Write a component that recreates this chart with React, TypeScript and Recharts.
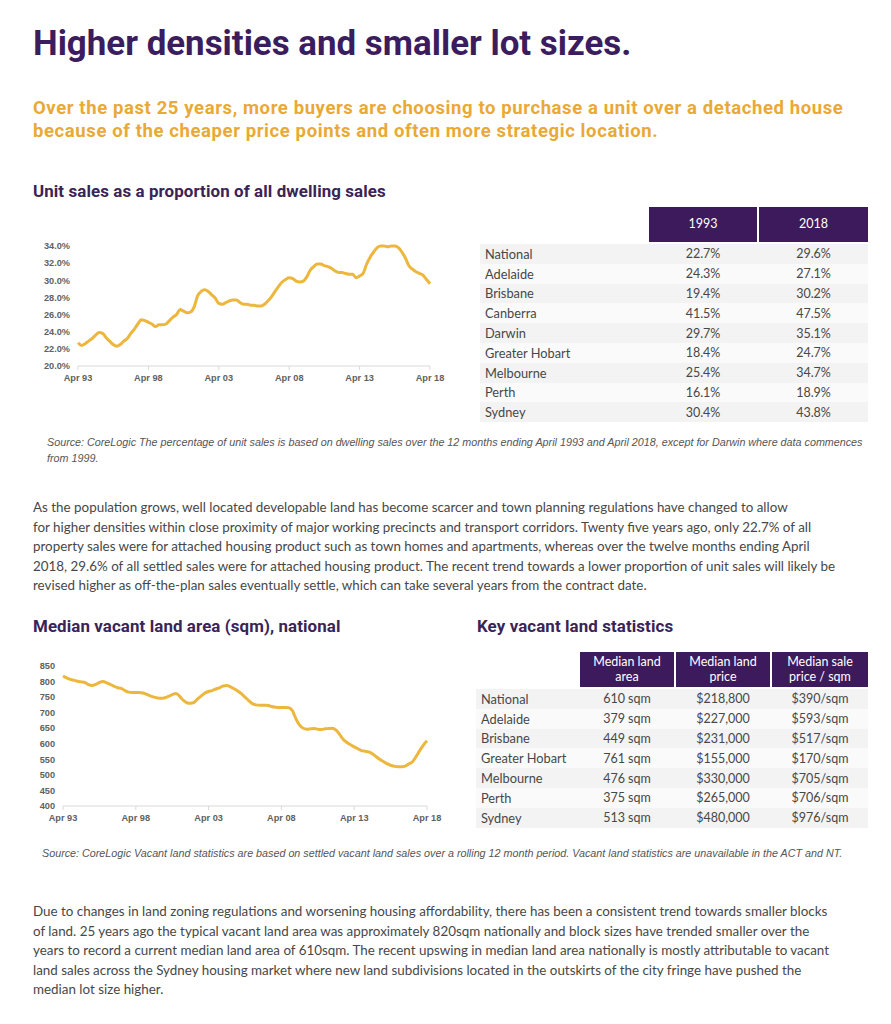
import React from 'react'
import { LineChart, Line, XAxis, YAxis } from 'recharts'

// ─── Data ───────────────────────────────────────────────────────
// quarterly readings, Apr 93 -> Apr 18 (101 points)
const unitShare = [
  22.7, 22.4, 22.6, 22.9, 23.2, 23.6, 23.9, 23.8, 23.3, 22.9,
  22.5, 22.3, 22.5, 22.9, 23.2, 23.8, 24.3, 24.9, 25.4, 25.3,
  25.1, 24.9, 24.6, 24.8, 24.8, 24.9, 25.3, 25.7, 26.0, 26.6,
  26.4, 26.2, 26.3, 26.9, 28.2, 28.7, 28.9, 28.7, 28.3, 27.9,
  27.3, 27.2, 27.4, 27.6, 27.7, 27.7, 27.4, 27.2, 27.2, 27.1,
  27.1, 27.0, 27.0, 27.2, 27.6, 28.1, 28.7, 29.3, 29.8, 30.1,
  30.3, 30.2, 29.9, 29.8, 29.9, 30.4, 31.2, 31.6, 31.9, 31.9,
  31.7, 31.6, 31.4, 31.1, 30.9, 30.9, 30.8, 30.7, 30.7, 30.3,
  30.5, 30.8, 31.9, 32.7, 33.3, 33.8, 34.0, 34.0, 33.9, 34.0,
  34.0, 33.8, 33.3, 32.6, 31.7, 31.3, 31.0, 30.8, 30.6, 30.1,
  29.6,
]

const landArea = [
  818, 812, 807, 804, 801, 799, 797, 790, 787, 791,
  797, 800, 796, 791, 785, 780, 778, 771, 766, 765,
  765, 765, 763, 759, 754, 750, 747, 746, 748, 752,
  758, 762, 753, 740, 732, 730, 733, 744, 754, 763,
  768, 771, 776, 780, 786, 787, 783, 777, 770, 761,
  750, 739, 729, 725, 724, 724, 724, 721, 718, 717,
  717, 717, 716, 707, 680, 660, 650, 647, 648, 649,
  647, 646, 648, 649, 650, 644, 630, 614, 604, 597,
  590, 584, 578, 576, 574, 568, 559, 550, 543, 536,
  531, 528, 526, 526, 528, 535, 542, 559, 578, 596,
  610,
]

const xLabels = ['Apr 93', 'Apr 98', 'Apr 03', 'Apr 08', 'Apr 13', 'Apr 18']
const shareTicks = [20, 22, 24, 26, 28, 30, 32, 34]
const areaTicks = [400, 450, 500, 550, 600, 650, 700, 750, 800, 850]

const shareCities = ['National', 'Adelaide', 'Brisbane', 'Canberra', 'Darwin', 'Greater Hobart', 'Melbourne', 'Perth', 'Sydney']
const share1993 = ['22.7%', '24.3%', '19.4%', '41.5%', '29.7%', '18.4%', '25.4%', '16.1%', '30.4%']
const share2018 = ['29.6%', '27.1%', '30.2%', '47.5%', '35.1%', '24.7%', '34.7%', '18.9%', '43.8%']

const landCities = ['National', 'Adelaide', 'Brisbane', 'Greater Hobart', 'Melbourne', 'Perth', 'Sydney']
const landSize = ['610 sqm', '379 sqm', '449 sqm', '761 sqm', '476 sqm', '375 sqm', '513 sqm']
const landPrice = ['$218,800', '$227,000', '$231,000', '$155,000', '$330,000', '$265,000', '$480,000']
const pricePerSqm = ['$390/sqm', '$593/sqm', '$517/sqm', '$170/sqm', '$705/sqm', '$706/sqm', '$976/sqm']

const para1 = [
  'As the population grows, well located developable land has become scarcer and town planning regulations have changed to allow',
  'for higher densities within close proximity of major working precincts and transport corridors. Twenty five years ago, only 22.7% of all',
  'property sales were for attached housing product such as town homes and apartments, whereas over the twelve months ending April',
  '2018, 29.6% of all settled sales were for attached housing product. The recent trend towards a lower proportion of unit sales will likely be',
  'revised higher as off-the-plan sales eventually settle, which can take several years from the contract date.',
]
const para2 = [
  'Due to changes in land zoning regulations and worsening housing affordability, there has been a consistent trend towards smaller blocks',
  'of land. 25 years ago the typical vacant land area was approximately 820sqm nationally and block sizes have trended smaller over the',
  'years to record a current median land area of 610sqm. The recent upswing in median land area nationally is mostly attributable to vacant',
  'land sales across the Sydney housing market where new land subdivisions located in the outskirts of the city fringe have pushed the',
  'median lot size higher.',
]
const source1 = [
  'Source: CoreLogic The percentage of unit sales is based on dwelling sales over the 12 months ending April 1993 and April 2018, except for Darwin where data commences',
  'from 1999.',
]
const source2 = 'Source: CoreLogic Vacant land statistics are based on settled vacant land sales over a rolling 12 month period. Vacant land statistics are unavailable in the ACT and NT.'

// ─── Styles ─────────────────────────────────────────────────────
const PURPLE = '#3b1c5e'
const HEAD = '#3a2456'
const GOLD = '#e9a935'
const LINE = '#edb63d'
const BODY = '#474747'
const SANS = 'Lato, "Open Sans", sans-serif'
const tick = { fontSize: 9.2, fill: '#616161', fontWeight: 700, fontFamily: '"Liberation Sans", Arial, sans-serif' }

const abs = (left: number, top: number): React.CSSProperties => ({ position: 'absolute', left, top })
const heading: React.CSSProperties = {
  fontFamily: 'Roboto, sans-serif', fontWeight: 700, fontSize: 16.9, lineHeight: '20px', color: HEAD, letterSpacing: 0.1,
}
const sourceStyle: React.CSSProperties = {
  fontFamily: '"Liberation Sans", Arial, sans-serif', fontStyle: 'italic', fontSize: 10.75, lineHeight: '16px', color: '#555', whiteSpace: 'nowrap',
}

const shareData = unitShare.map((v, i) => ({ q: i, v }))
const areaData = landArea.map((v, i) => ({ q: i, v }))
const xTicks = xLabels.map((_, i) => i * 20)

function SeriesChart({ data, ticks, domain, fmt, width, height, yWidth }: {
  data: { q: number; v: number }[]; ticks: number[]; domain: [number, number]
  fmt: (v: number) => string; width: number; height: number; yWidth: number
}) {
  return (
    <LineChart width={width} height={height} data={data} margin={{ top: 16, right: 20, left: 0, bottom: 0 }}>
      <XAxis dataKey="q" type="number" domain={[0, 100]} ticks={xTicks} interval={0}
        tickFormatter={v => xLabels[v / 20]} tick={tick} height={30}
        axisLine={{ stroke: '#d9d9d9' }} tickLine={{ stroke: '#d9d9d9' }} tickSize={4} tickMargin={4} />
      <YAxis type="number" domain={domain} ticks={ticks} interval={0} tickFormatter={fmt}
        tick={tick} width={yWidth} axisLine={false} tickLine={false} />
      <Line type="monotone" dataKey="v" stroke={LINE} strokeWidth={3} dot={false} isAnimationActive={false} />
    </LineChart>
  )
}

function Table({ left, top, labelW, cols, header, rows }: {
  left: number; top: number; labelW: number; cols: number[]
  header: string[][]; rows: string[][]
}) {
  const rowH = 19.8
  return (
    <div style={{ ...abs(left, top), fontFamily: SANS }}>
      <div style={{ display: 'flex', height: 35 }}>
        <div style={{ width: labelW }} />
        {cols.map((w, i) => (
          <div key={i} style={{
            width: w, marginLeft: 2, background: '#3d1a5c', color: '#fff', fontSize: 12.5,
            display: 'flex', alignItems: 'center', justifyContent: 'center', textAlign: 'center', lineHeight: '14.5px',
          }}>
            <div>{header[i].map((h, j) => <div key={j}>{h}</div>)}</div>
          </div>
        ))}
      </div>
      <div style={{ marginTop: 2 }}>
        {rows.map((r, ri) => (
          <div key={ri} style={{ display: 'flex', height: rowH, alignItems: 'center', background: ri % 2 === 0 ? '#f3f3f3' : '#fafafa', color: BODY, fontSize: 12.8 }}>
            <div style={{ width: labelW, paddingLeft: 5, boxSizing: 'border-box', whiteSpace: 'nowrap' }}>{r[0]}</div>
            {cols.map((w, i) => (
              <div key={i} style={{ width: w, marginLeft: 2, textAlign: 'center', fontSize: 12.5 }}>{r[i + 1]}</div>
            ))}
          </div>
        ))}
      </div>
    </div>
  )
}

function Para({ top, lines }: { top: number; lines: string[] }) {
  return (
    <div style={{ ...abs(33, top), fontFamily: SANS, fontSize: 13.4, lineHeight: '19.5px', color: BODY, whiteSpace: 'nowrap' }}>
      {lines.map((l, i) => <div key={i}>{l}</div>)}
    </div>
  )
}

export default function App() {
  return (
    <div style={{ position: 'absolute', left: 0, top: 0, width: 891, height: 1024, background: '#fff', overflow: 'hidden' }}>
      <div style={{ ...abs(33, 24), fontFamily: 'Roboto, sans-serif', fontWeight: 700, fontSize: 34.9, lineHeight: '40px', color: PURPLE }}>
        Higher densities and smaller lot sizes.
      </div>
      <div style={{ ...abs(33, 97), fontFamily: 'Roboto, sans-serif', fontWeight: 700, fontSize: 18.5, lineHeight: '22.5px', color: GOLD, letterSpacing: 0.6, whiteSpace: 'nowrap' }}>
        <div>Over the past 25 years, more buyers are choosing to purchase a unit over a detached house</div>
        <div>because of the cheaper price points and often more strategic location.</div>
      </div>
      <div style={{ ...abs(33, 181), ...heading }}>
        Unit sales as a proportion of all dwelling sales
      </div>

      <div style={abs(30, 230)}>
        <SeriesChart data={shareData} ticks={shareTicks} domain={[20, 34]} fmt={v => `${v.toFixed(1)}%`}
          width={420} height={166} yWidth={48} />
      </div>

      <Table left={480} top={207} labelW={167} cols={[108, 109]} header={[['1993'], ['2018']]}
        rows={shareCities.map((c, i) => [c, share1993[i], share2018[i]])} />

      <div style={{ ...abs(47, 434), ...sourceStyle }}>
        {source1.map((l, i) => <div key={i}>{l}</div>)}
      </div>

      <Para top={498} lines={para1} />

      <div style={{ ...abs(33, 616), ...heading }}>
        Median vacant land area (sqm), national
      </div>
      <div style={{ ...abs(477, 616), ...heading }}>
        Key vacant land statistics
      </div>

      <div style={abs(20, 650)}>
        <SeriesChart data={areaData} ticks={areaTicks} domain={[400, 850]} fmt={v => String(v)}
          width={427} height={186} yWidth={43} />
      </div>

      <Table left={476} top={652} labelW={102} cols={[94, 94, 96]}
        header={[['Median land', 'area'], ['Median land', 'price'], ['Median sale', 'price / sqm']]}
        rows={landCities.map((c, i) => [c, landSize[i], landPrice[i], pricePerSqm[i]])} />

      <div style={{ ...abs(42, 845), ...sourceStyle }}>
        {source2}
      </div>

      <Para top={902} lines={para2} />
    </div>
  )
}
